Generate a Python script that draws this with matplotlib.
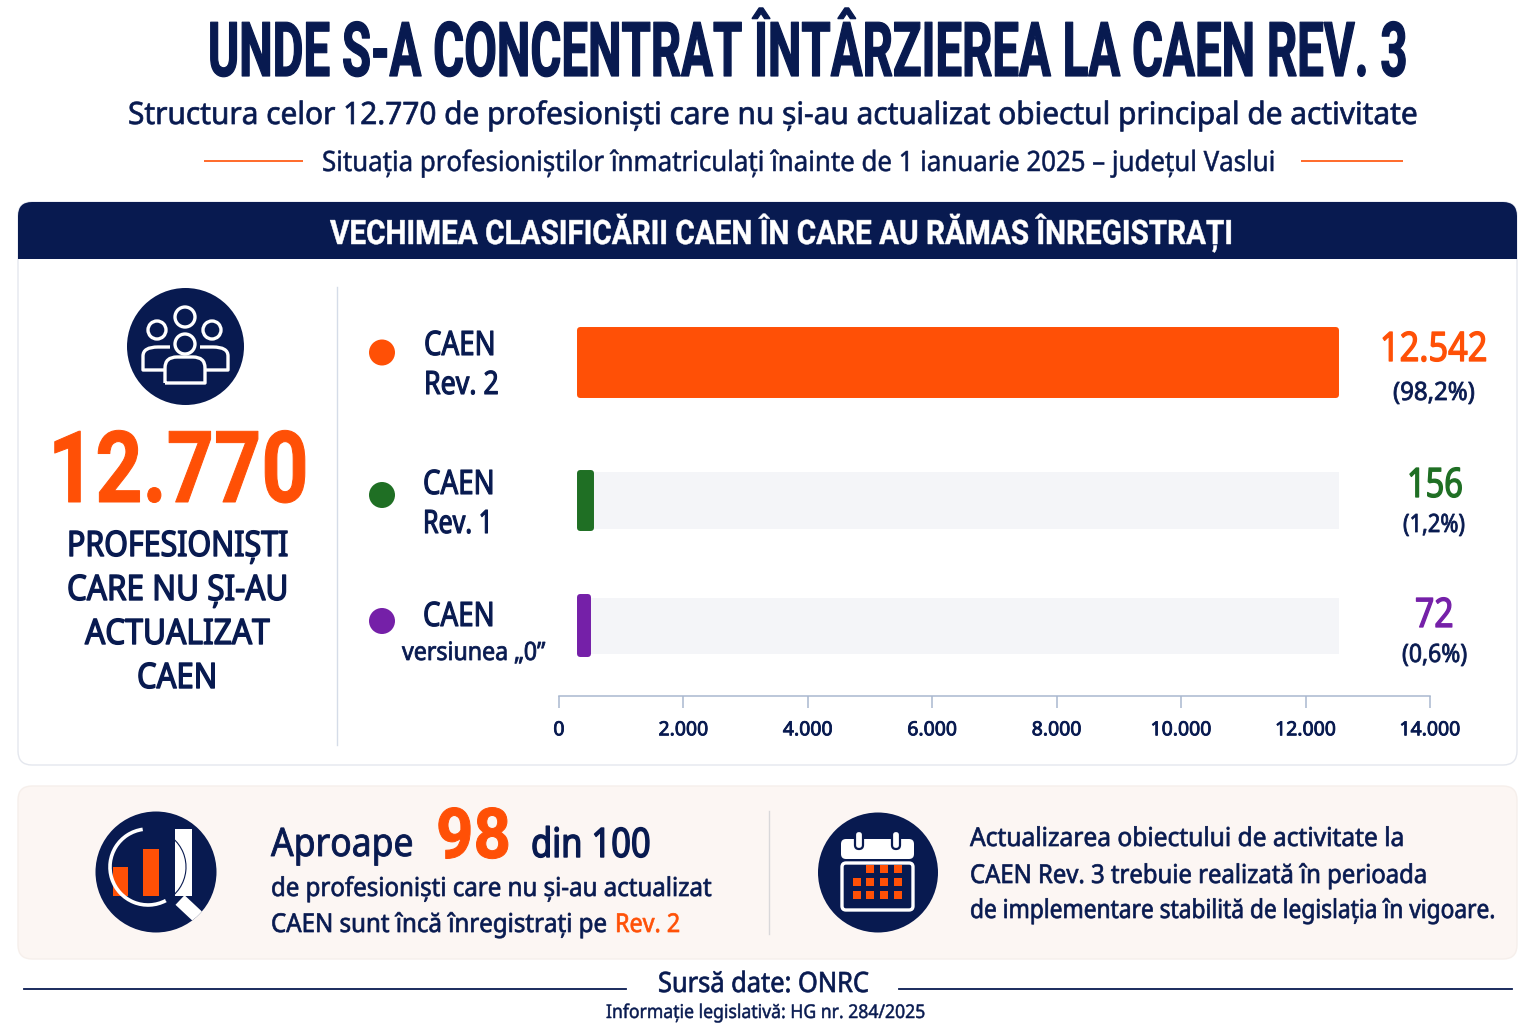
import matplotlib
matplotlib.use("Agg")
import matplotlib.pyplot as plt
import matplotlib.patheffects as pe
from matplotlib.patches import Circle, Rectangle, FancyBboxPatch, PathPatch, Arc
from matplotlib.path import Path
from matplotlib.ticker import FuncFormatter
from matplotlib.transforms import Affine2D

# ---------- data ----------
categories = ["CAEN Rev. 2", "CAEN Rev. 1", "CAEN versiunea „0”"]
values = [12542, 156, 72]
shares = ["(98,2%)", "(1,2%)", "(0,6%)"]
value_labels = ["12.542", "156", "72"]
ticks = [0, 2000, 4000, 6000, 8000, 10000, 12000, 14000]
total = "12.770"

NAVY = "#081A50"
ORANGE = "#FF5006"
GREEN = "#1F6F24"
PURPLE = "#7520A8"
TRACK = "#F4F5F8"
CREAM = "#FCF6F3"
colors = [ORANGE, GREEN, PURPLE]

W, H = 1536, 1024
fig = plt.figure(figsize=(W / 100, H / 100), dpi=100, facecolor="white")
bg = fig.add_axes([0, 0, 1, 1])
bg.set_xlim(0, W)
bg.set_ylim(H, 0)
bg.axis("off")
renderer = fig.canvas.get_renderer()

BODY = "Noto Sans"
HEAVY = "Roboto"
CAP = 0.714


class Shape(pe.AbstractPathEffect):
    """Stretches glyphs vertically about the baseline and thickens them with a stroke."""

    def __init__(self, base_px, fy, emb_px):
        super().__init__()
        self.base, self.fy, self.emb = base_px, fy, emb_px

    def draw_path(self, renderer, gc, tpath, affine, rgbFace):
        a = affine + Affine2D().translate(0, -self.base).scale(1, self.fy).translate(0, self.base)
        g = renderer.new_gc()
        g.copy_properties(gc)
        g.set_linewidth(self.emb * 0.72)
        g.set_foreground(rgbFace)
        g.set_joinstyle("round")
        renderer.draw_path(g, tpath, a, rgbFace)
        g.restore()


def T(s, x0, x1, base, cap, color=NAVY, emb=0.4, family=BODY, weight="normal"):
    """Real text spanning x0..x1 on baseline `base`, with capitals `cap` pixels tall."""
    t = bg.text(x0, base, s, color=color, family=family, fontweight=weight,
                fontsize=20, ha="left", va="baseline", zorder=6)
    w = t.get_window_extent(renderer).width
    size = 20 * (x1 - x0 - emb) / w
    t.set_fontsize(size)
    px = size * 100 / 72
    t.set_path_effects([Shape(H - base, cap / (px * CAP), emb)])
    return t


def rbox(x0, y0, x1, y1, r, **kw):
    p = FancyBboxPatch((x0 + r, y0 + r), x1 - x0 - 2 * r, y1 - y0 - 2 * r,
                       boxstyle=f"round,pad={r},rounding_size={r}", **kw)
    bg.add_patch(p)
    return p


# ---------- heading ----------
T("UNDE S-A CONCENTRAT ÎNTÂRZIEREA LA CAEN REV. 3", 208, 1406, 76, 54, emb=1.2, family=HEAVY, weight="bold")
T("Structura celor 12.770 de profesioniști care nu și-au actualizat obiectul principal de activitate",
  128, 1418, 124, 22, emb=0.7)
T("Situația profesioniștilor înmatriculați înainte de 1 ianuarie 2025 – județul Vaslui", 322, 1276, 171, 20, emb=0.5)
for a, b in ((204, 303), (1301, 1403)):
    bg.plot([a, b], [161, 161], color=ORANGE, lw=1.2, solid_capstyle="butt")

# ---------- main panel ----------
rbox(18, 202, 1517, 765, 14, fc="white", ec="#E4E7EE", lw=1, zorder=1)
rbox(18, 202, 1517, 240, 14, fc=NAVY, ec="none", zorder=2)
bg.add_patch(Rectangle((18, 218), 1499, 41, fc=NAVY, ec="none", zorder=2))
T("VECHIMEA CLASIFICĂRII CAEN ÎN CARE AU RĂMAS ÎNREGISTRAȚI", 330, 1232, 244, 24,
  color="white", emb=0.5, family=HEAVY, weight="bold")
bg.plot([337, 337], [287, 745], color="#D5DCE8", lw=1, zorder=3)

# people icon
bg.add_patch(Circle((185.5, 346.5), 58.5, fc=NAVY, ec="none", zorder=3))
for cx, cy, r in ((185, 317, 10), (157, 330, 9), (212, 330, 9), (185, 344, 10)):
    bg.add_patch(Circle((cx, cy), r, fc=NAVY, ec="white", lw=2.4, zorder=5))
icon_line = dict(fc="none", ec="white", lw=2.4, zorder=4, joinstyle="round")
bg.add_patch(PathPatch(Path([(170, 370), (143, 370), (143, 356), (143, 347), (158, 347), (170, 347)],
                            [1, 2, 2, 3, 3, 2]), **icon_line))
bg.add_patch(PathPatch(Path([(201, 370), (228, 370), (228, 356), (228, 347), (213, 347), (200, 347)],
                            [1, 2, 2, 3, 3, 2]), **icon_line))
bg.add_patch(PathPatch(Path([(165, 383), (205, 383), (205, 368), (205, 357), (193, 357), (177, 357),
                             (165, 357), (165, 368), (165, 383)],
                            [1, 2, 2, 3, 3, 2, 3, 3, 2]),
                       fc=NAVY, ec="white", lw=2.4, zorder=5, joinstyle="round"))

T(total, 48, 310, 502, 71, color=ORANGE, emb=1.0, family=HEAVY, weight="bold")
T("PROFESIONIȘTI", 67, 290, 556, 25, emb=1.4)
T("CARE NU ȘI-AU", 67, 290, 600, 25, emb=1.4)
T("ACTUALIZAT", 85, 271, 644, 25, emb=1.4)
T("CAEN", 137, 219, 688, 25, emb=1.4)

# ---------- bar chart ----------
AX_L, AX_R, AX_T, AX_B = 559, 1430, 300, 696
ax = fig.add_axes([AX_L / W, 1 - AX_B / H, (AX_R - AX_L) / W, (AX_B - AX_T) / H], zorder=3)
ax.patch.set_alpha(0)
ax.set_xlim(0, 14000)
ax.set_ylim(AX_B, AX_T)
bar_start = 285          # bars begin slightly right of the axis origin, as in the reference
round_inset = 48         # half of the rounded edge stroke, in data units
track_end = 12542
row_y = [362.5, 500.5, 625.5]
track_h = [0, 57, 56]
bar_h = [71, 61, 63]


def bar_right(v):
    # the small categories are drawn as visible stubs, wider than their scale length
    return v if v > 1000 else bar_start + 195 + 0.53 * v


ax.barh(row_y[1:], [track_end - bar_start] * 2, left=bar_start, height=track_h[1:], color=TRACK, zorder=1)
for y, v, h, c in zip(row_y, values, bar_h, colors):
    ax.barh(y, bar_right(v) - bar_start - 2 * round_inset, left=bar_start + round_inset, height=h - 6,
            color=c, edgecolor=c, linewidth=4.3, joinstyle="round", zorder=2)
for s in ("left", "right", "top"):
    ax.spines[s].set_visible(False)
ax.spines["bottom"].set_color("#A9B8CF")
ax.spines["bottom"].set_linewidth(1.1)
ax.set_yticks([])
ax.set_xticks(ticks)
ax.xaxis.set_major_formatter(FuncFormatter(lambda v, _: f"{int(v):,}".replace(",", ".")))
ax.tick_params(axis="x", length=8.5, width=1.1, color="#A9B8CF", pad=9, labelcolor=NAVY, labelsize=14)
for lab in ax.get_xticklabels():
    lab.set_fontfamily(BODY)
    lab.set_path_effects([pe.withStroke(linewidth=0.6, foreground=NAVY)])

# row labels and dots
for y, c in zip((352.5, 495, 621), colors):
    bg.add_patch(Circle((382, y), 13, fc=c, ec="none", zorder=3))
T("CAEN", 424, 497, 355, 24, emb=1.1)
T("Rev. 2", 424, 500, 394, 23, emb=1.1)
T("CAEN", 423, 496, 494, 24, emb=1.1)
T("Rev. 1", 423, 494, 533, 23, emb=1.1)
T("CAEN", 423, 496, 626, 24, emb=1.1)
T("versiunea „0”", 402, 546, 660, 18, emb=0.8)

# value labels
T(value_labels[0], 1380, 1489, 361, 29, color=colors[0], emb=1.3)
T(shares[0], 1393, 1476, 400, 18, emb=0.8)
T(value_labels[1], 1407, 1464, 497, 29, color=colors[1], emb=1.3)
T(shares[1], 1403, 1466, 532, 18, emb=0.8)
T(value_labels[2], 1415, 1455, 627, 29, color=colors[2], emb=1.3)
T(shares[2], 1402, 1468, 662, 18, emb=0.8)

# ---------- bottom panel ----------
rbox(18, 786, 1517, 959, 14, fc=CREAM, ec="#F6EFEB", lw=1, zorder=1)
bg.plot([769, 769], [811, 934], color="#D9D8DA", lw=1, zorder=2)

# magnifier icon
disc = Circle((156, 872), 60.5, fc=NAVY, ec="none", zorder=2)
bg.add_patch(disc)
bg.add_patch(Rectangle((113, 867), 15, 29, fc=ORANGE, ec="none", zorder=3))
bg.add_patch(Rectangle((143, 849), 16, 47, fc=ORANGE, ec="none", zorder=3))
bg.add_patch(Rectangle((175, 829), 17, 67, fc="white", ec="none", zorder=3))
bg.add_patch(Arc((148, 867), 76, 76, theta1=62, theta2=262, color="white", lw=2.6, zorder=4))
bg.add_patch(Arc((148, 867), 76, 76, theta1=-50, theta2=62, color=NAVY, lw=0.8, zorder=4))
handle, = bg.plot([180, 212], [900, 930], color="white", lw=9.5, solid_capstyle="butt", zorder=4)
handle.set_clip_path(disc)

# calendar icon
bg.add_patch(Circle((878, 872.5), 60, fc=NAVY, ec="none", zorder=2))
rbox(842, 863, 913, 910, 4, fc=NAVY, ec="white", lw=2.4, zorder=3)
rbox(841, 839, 914, 859, 5, fc="white", ec="none", zorder=4)
for x in (859, 896):
    rbox(x - 4, 831, x + 4, 849, 4, fc="white", ec=NAVY, lw=1.6, zorder=5)
for i, y in enumerate((869, 882, 895)):
    for j, x in enumerate((857, 870, 884, 898)):
        if i == 0 and j == 0:
            continue
        bg.add_patch(Rectangle((x - 3.7, y - 3.7), 7.4, 7.4, fc=ORANGE, ec="none", zorder=5))

T("Aproape", 271, 414, 856, 28, emb=0.9)
T("98", 436, 512, 858, 50, color=ORANGE, emb=1.0, family=HEAVY, weight="bold")
T("din 100", 531, 652, 857, 29, emb=1.4)
T("de profesioniști care nu și-au actualizat", 271, 712, 896, 18.5, emb=0.7)
T("CAEN sunt încă înregistrați pe", 271, 608, 932, 18.5, emb=0.7)
T("Rev. 2", 615, 681, 932, 18.5, color=ORANGE, emb=0.7)
T("Actualizarea obiectului de activitate la", 970, 1405, 846, 18.5, emb=0.7)
T("CAEN Rev. 3 trebuie realizată în perioada", 970, 1428, 883, 18.5, emb=0.7)
T("de implementare stabilită de legislația în vigoare.", 970, 1496, 918, 18.5, emb=0.7)

# ---------- footer ----------
bg.plot([24, 626], [989, 989], color=NAVY, lw=1.3)
bg.plot([899, 1512], [989, 989], color=NAVY, lw=1.3)
T("Sursă date: ONRC", 658, 870, 992, 20, emb=0.7)
T("Informație legislativă: HG nr. 284/2025", 606, 926, 1018, 13.5, emb=0.5)

fig.savefig("out.png", dpi=100, facecolor="white")
